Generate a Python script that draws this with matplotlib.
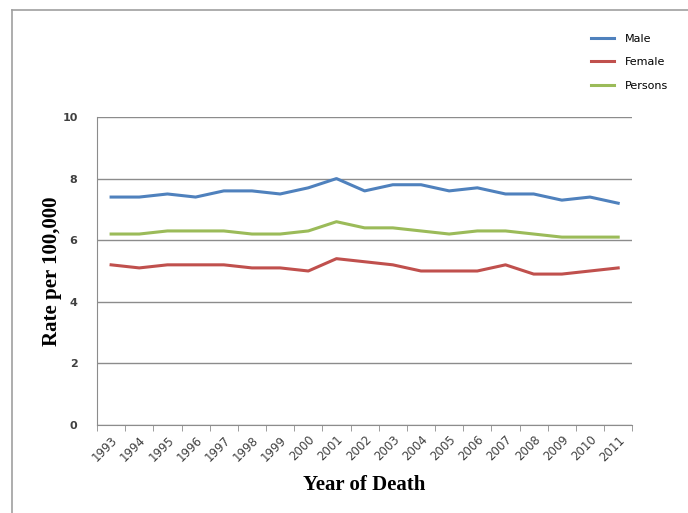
import matplotlib.pyplot as plt
import numpy as np

years = [str(y) for y in range(1993, 2012)]
male = [7.4, 7.4, 7.5, 7.4, 7.6, 7.6, 7.5, 7.7, 8.0, 7.6, 7.8, 7.8, 7.6, 7.7, 7.5, 7.5, 7.3, 7.4, 7.2]
female = [5.2, 5.1, 5.2, 5.2, 5.2, 5.1, 5.1, 5.0, 5.4, 5.3, 5.2, 5.0, 5.0, 5.0, 5.2, 4.9, 4.9, 5.0, 5.1]
persons = [6.2, 6.2, 6.3, 6.3, 6.3, 6.2, 6.2, 6.3, 6.6, 6.4, 6.4, 6.3, 6.2, 6.3, 6.3, 6.2, 6.1, 6.1, 6.1]

fig = plt.figure(figsize=(6.88, 5.13), dpi=100)
ax = fig.add_axes([0.141, 0.1715, 0.778, 0.6005])

# chart border (left and top visible)
fig.add_artist(plt.Line2D([12/688, 12/688], [0, 1 - 10/513], color='#a0a0a0', lw=1.2))
fig.add_artist(plt.Line2D([12/688, 1], [1 - 10/513, 1 - 10/513], color='#a0a0a0', lw=1.2))

x = np.arange(len(years))
ax.plot(x, male, color='#4F81BD', lw=2.2, label='Male')
ax.plot(x, female, color='#C0504D', lw=2.2, label='Female')
ax.plot(x, persons, color='#9BBB59', lw=2.2, label='Persons')

ax.set_xlim(-0.5, len(years) - 0.5)
ax.set_ylim(0, 10)
ax.set_yticks([0, 2, 4, 6, 8, 10])
ax.yaxis.grid(True, color='#8c8c8c', lw=1)
ax.set_axisbelow(True)
ax.tick_params(axis='y', length=0, pad=14, labelsize=8, labelcolor='#404040')
for lab in ax.get_yticklabels():
    lab.set_fontweight('bold')

ax.set_xticks(x)
ax.set_xticklabels(years, rotation=45, ha='right', rotation_mode='anchor', fontsize=8.5, color='#404040')
ax.tick_params(axis='x', length=0, pad=6)
ax.set_xticks(np.arange(-0.5, len(years), 1), minor=True)
ax.tick_params(axis='x', which='minor', length=4, color='#8c8c8c', direction='out')

for s in ['top', 'right']:
    ax.spines[s].set_visible(False)
ax.spines['left'].set_color('#8c8c8c')
ax.spines['bottom'].set_color('#8c8c8c')

ax.set_ylabel('Rate per 100,000', family='Liberation Serif', fontsize=15, fontweight='bold', labelpad=0)
ax.set_xlabel('Year of Death', family='Liberation Serif', fontsize=15, fontweight='bold', labelpad=8)

ax.legend(loc='upper left', bbox_to_anchor=(0.905, 1.302), frameon=False, fontsize=8,
          handlelength=2.0, labelspacing=1.2, handletextpad=1.0)

plt.savefig('out.png', dpi=100)
